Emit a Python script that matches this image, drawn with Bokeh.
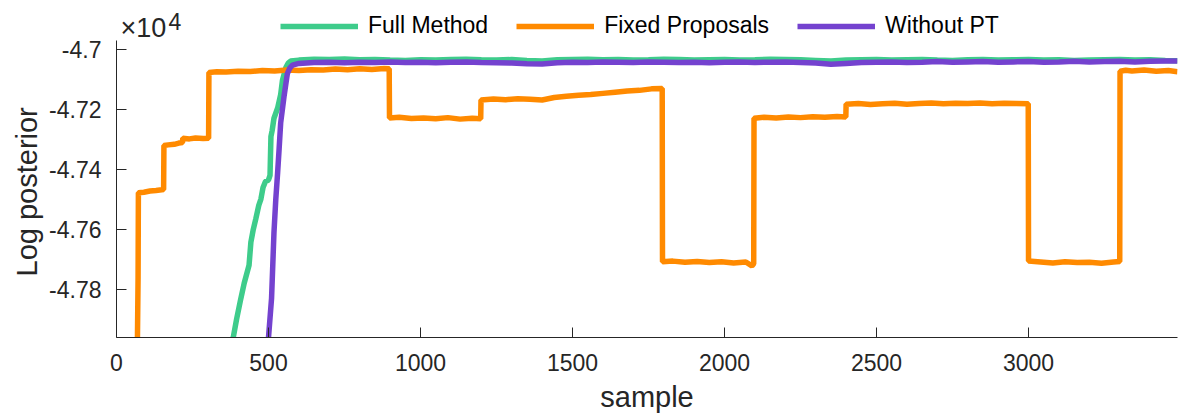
from bokeh.plotting import figure
from bokeh.models import Legend, LegendItem, FixedTicker, Range1d, Label, Title
from bokeh.embed import file_html
from bokeh.resources import INLINE

# ---------------- data ----------------
full_x = [375, 384, 395, 409, 420, 436, 442, 450, 458, 468, 475, 482, 490, 500, 505,
          508, 512, 518, 530, 540, 546, 557, 565, 573,
          600, 650, 700, 750, 800, 850, 900, 950, 1000, 1050, 1100, 1150, 1200, 1250,
          1300, 1350, 1400, 1450, 1500, 1550, 1600, 1650, 1700, 1750, 1800, 1850, 1900,
          1950, 2000, 2050, 2100, 2150, 2200, 2250, 2300, 2350, 2400, 2450, 2500, 2550,
          2600, 2650, 2700, 2750, 2800, 2850, 2900, 2950, 3000, 3050, 3100, 3150, 3200,
          3250, 3300, 3350, 3400, 3450, 3490]
full_y = [-48000, -47961, -47900, -47831, -47780, -47720, -47643, -47600, -47566, -47520,
          -47499, -47460, -47440, -47435, -47420, -47290, -47270, -47229, -47195, -47150,
          -47102, -47060, -47045, -47038,
          -47035, -47032, -47033, -47031, -47034, -47033, -47035, -47036, -47034, -47035,
          -47033, -47032, -47034, -47035, -47033, -47036, -47038, -47034, -47033, -47032,
          -47034, -47033, -47035, -47034, -47032, -47033, -47035, -47034, -47033, -47035,
          -47034, -47032, -47033, -47034, -47036, -47038, -47035, -47034, -47033, -47035,
          -47034, -47033, -47035, -47036, -47034, -47033, -47035, -47034, -47033, -47035,
          -47034, -47036, -47035, -47034, -47033, -47035, -47034, -47036, -47037]

fixed_x = [68, 71, 72, 90, 110, 130, 155, 156, 170, 190, 205, 217, 218, 240, 260, 285, 303,
           304, 330, 360, 400, 440, 480, 520, 560, 600, 640, 680, 720, 760, 800, 840, 880,
           897, 898, 930, 970, 1010, 1050, 1090, 1130, 1170, 1198, 1199, 1240, 1280, 1320,
           1360, 1400, 1440, 1480, 1520, 1560, 1600, 1640, 1680, 1720, 1760, 1795, 1796,
           1830, 1870, 1910, 1950, 1990, 2030, 2070, 2090, 2096, 2097, 2130, 2170, 2210,
           2250, 2290, 2330, 2370, 2399, 2400, 2440, 2480, 2520, 2560, 2600, 2640, 2680,
           2720, 2760, 2800, 2840, 2880, 2920, 2960, 2999, 3000, 3040, 3080, 3120, 3160,
           3200, 3240, 3280, 3300, 3301, 3320, 3340, 3380, 3420, 3460, 3490]
fixed_y = [-48050, -47760, -47478, -47476, -47472, -47470, -47467, -47320, -47318, -47316,
           -47312, -47310, -47296, -47298, -47295, -47297, -47296,
           -47076, -47074, -47075, -47072, -47073, -47070, -47071, -47068, -47070, -47067,
           -47068, -47065, -47067, -47064, -47066, -47063, -47064,
           -47228, -47226, -47230, -47228, -47231, -47227, -47232, -47229, -47231,
           -47168, -47165, -47167, -47164, -47166, -47168, -47160, -47156, -47152, -47150,
           -47146, -47142, -47138, -47136, -47131, -47130,
           -47708, -47706, -47710, -47707, -47711, -47708, -47712, -47709, -47722, -47715,
           -47229, -47226, -47228, -47225, -47227, -47224, -47226, -47223, -47225,
           -47182, -47180, -47183, -47181, -47179, -47182, -47180, -47178, -47181, -47179,
           -47180, -47178, -47181, -47179, -47180, -47181,
           -47706, -47709, -47712, -47708, -47711, -47710, -47713, -47709, -47707,
           -47072, -47069, -47071, -47068, -47072, -47070, -47074]

nopt_x = [495, 500, 510, 518, 524, 530, 535, 540, 551, 562, 570, 579,
          600, 650, 700, 750, 800, 850, 900, 950, 1000, 1050, 1100, 1150, 1200, 1250,
          1300, 1350, 1400, 1450, 1500, 1550, 1600, 1650, 1700, 1750, 1800, 1850, 1900,
          1950, 2000, 2050, 2100, 2150, 2200, 2250, 2300, 2350, 2400, 2450, 2500, 2550,
          2600, 2650, 2700, 2750, 2800, 2850, 2900, 2950, 3000, 3050, 3100, 3150, 3200,
          3250, 3300, 3350, 3400, 3450, 3490]
nopt_y = [-48000, -47961, -47831, -47610, -47499, -47411, -47330, -47245, -47157, -47080,
          -47062, -47052,
          -47046, -47043, -47042, -47044, -47042, -47043, -47041, -47043, -47042, -47044,
          -47042, -47041, -47043, -47044, -47045, -47047, -47048, -47044, -47042, -47043,
          -47041, -47042, -47043, -47041, -47042, -47043, -47042, -47044, -47042, -47041,
          -47043, -47042, -47041, -47043, -47045, -47049, -47046, -47043, -47042, -47041,
          -47043, -47042, -47040, -47042, -47041, -47040, -47042, -47041, -47040, -47042,
          -47041, -47039, -47041, -47040, -47039, -47041, -47039, -47038, -47038]

series_names = ["Full Method", "Fixed Proposals", "Without PT"]
series_colors = ["#3ECC8B", "#FF8A00", "#7442CF"]

x_ticks = [0, 500, 1000, 1500, 2000, 2500, 3000]
y_ticks = [-47800, -47600, -47400, -47200, -47000]
y_tick_labels = ["-4.78", "-4.76", "-4.74", "-4.72", "-4.7"]
y_limits = (-47961, -46971)

# ---------------- figure ----------------
# The frame reaches the top of the canvas so that the legend and the exponent
# marker (drawn inside the frame) are not clipped; the y axis line is bounded.
p = figure(width=1184, height=415, output_backend="svg", toolbar_location=None,
           x_range=Range1d(0, 3490), y_range=Range1d(-47961, -46836),
           min_border_left=116, min_border_right=7, min_border_top=0, min_border_bottom=76)
p.outline_line_color = None
p.xgrid.visible = False
p.ygrid.visible = False
p.background_fill_color = "white"

r_full = p.line(full_x, full_y, line_color=series_colors[0], line_width=5.5)
r_fixed = p.line(fixed_x, fixed_y, line_color=series_colors[1], line_width=5.5)
r_nopt = p.line(nopt_x, nopt_y, line_color=series_colors[2], line_width=5.5)

axis_color = "#262626"
for ax in (p.xaxis[0], p.yaxis[0]):
    ax.axis_line_color = axis_color
    ax.axis_line_width = 1
    ax.major_tick_line_color = axis_color
    ax.major_tick_in = 10
    ax.major_tick_out = 0
    ax.minor_tick_line_color = None
    ax.major_label_text_font = "Liberation Sans"
    ax.major_label_text_font_size = "23px"
    ax.major_label_text_color = axis_color
    ax.axis_label_text_font = "Liberation Sans"
    ax.axis_label_text_font_size = "29px"
    ax.axis_label_text_font_style = "normal"
    ax.axis_label_text_color = axis_color

p.xaxis.ticker = FixedTicker(ticks=x_ticks)
p.xaxis.axis_label = "sample"
p.xaxis.major_label_standoff = 16
p.xaxis.axis_label_standoff = 7

p.yaxis.ticker = FixedTicker(ticks=y_ticks)
p.yaxis.bounds = y_limits
p.yaxis.major_label_overrides = {t: l for t, l in zip(y_ticks, y_tick_labels)}
p.yaxis.major_label_standoff = 15

# y axis title, positioned along the bounded axis
p.add_layout(Title(text="Log posterior", align="left", offset=61, standoff=8,
                   text_font="Liberation Sans", text_font_size="29px",
                   text_font_style="normal", text_color=axis_color), "left")

# exponent marker
p.add_layout(Label(x=4, y=310, x_units="screen", y_units="screen", text="×10",
                   text_font="Liberation Sans", text_font_size="27px",
                   text_color=axis_color, text_baseline="alphabetic"))
p.add_layout(Label(x=52, y=316, x_units="screen", y_units="screen", text="4",
                   text_font="Liberation Sans", text_font_size="23px",
                   text_color=axis_color, text_baseline="alphabetic"))

legend = Legend(items=[LegendItem(label=series_names[0], renderers=[r_full]),
                       LegendItem(label=series_names[1], renderers=[r_fixed]),
                       LegendItem(label=series_names[2], renderers=[r_nopt])],
                orientation="horizontal", location=(164, 298),
                label_text_font="Liberation Sans", label_text_font_size="23px",
                label_text_color="black",
                glyph_width=78, glyph_height=20, label_standoff=10, spacing=28,
                padding=0, margin=0, border_line_alpha=0, background_fill_alpha=0)
p.add_layout(legend)

open("out.html", "w").write(file_html(p, INLINE))
